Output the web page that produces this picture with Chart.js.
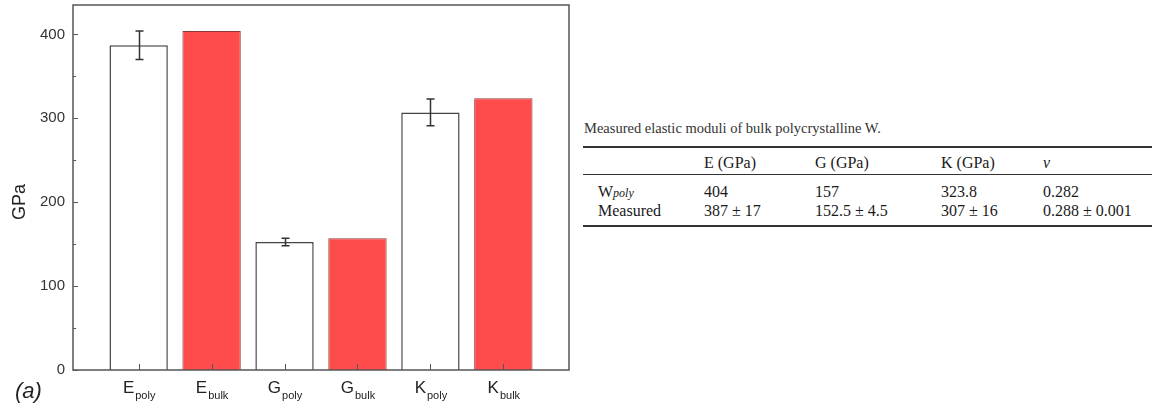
<!DOCTYPE html>
<html>
<head>
<meta charset="utf-8">
<script src="https://cdn.jsdelivr.net/npm/chart.js@4"></script>
<style>
  body { margin: 0; width: 1152px; height: 407px; background: #fff; position: relative; overflow: hidden; }
  #chart { position: absolute; left: 0; top: 0; }
  .tbl { position: absolute; font-family: "Liberation Serif", serif; font-size: 16px; color: #1a1a1a; line-height: 18px; white-space: nowrap; }
  .rule { position: absolute; left: 583px; right: 0; background: #333; }
</style>
</head>
<body>
<canvas id="chart" width="576" height="407"></canvas>
<div id="table"></div>
<script>
// chart data
const labels = ["E", "E", "G", "G", "K", "K"];
const subs = ["poly", "bulk", "poly", "bulk", "poly", "bulk"];
const values = [387, 404, 152.5, 157, 307, 323.8];
const errors = [17, 0, 4.5, 0, 16, 0];
const yTicks = [0, 100, 200, 300, 400];
const yMinor = [50, 150, 250, 350];

// table data
const tableCaption = "Measured elastic moduli of bulk polycrystalline W.";
const tableHead = ["", "E (GPa)", "G (GPa)", "K (GPa)", "ν"];
const tableRows = [
    ["W<i style='font-size:12px'>poly</i>", "404", "157", "323.8", "0.282"],
    ["Measured", "387 ± 17", "152.5 ± 4.5", "307 ± 16", "0.288 ± 0.001"]
];

const red = "#ff4b4b";
const isBulk = subs.map(s => s == "bulk");

// frame, inside ticks, subscripted labels, error bars
const decor = {
    id: "decor",
    afterDatasetsDraw(chart) {
        const ctx = chart.ctx;
        const a = chart.chartArea;
        const xs = chart.scales.x, ys = chart.scales.y;
        ctx.save();
        // error bars
        ctx.strokeStyle = "#333";
        ctx.lineWidth = 1.5;
        values.forEach((v, i) => {
            if (!errors[i]) return;
            const x = Math.round(xs.getPixelForValue(i)) + 0.5;
            const y1 = ys.getPixelForValue(v + errors[i]);
            const y2 = ys.getPixelForValue(v - errors[i]);
            ctx.beginPath();
            ctx.moveTo(x, y1); ctx.lineTo(x, y2);
            ctx.moveTo(x - 4, y1); ctx.lineTo(x + 4, y1);
            ctx.moveTo(x - 4, y2); ctx.lineTo(x + 4, y2);
            ctx.stroke();
        });
        // frame
        ctx.strokeStyle = "#555";
        ctx.lineWidth = 1.5;
        ctx.strokeRect(a.left, a.top, a.right - a.left, a.bottom - a.top);
        // ticks
        ctx.lineWidth = 1;
        ctx.beginPath();
        yTicks.forEach(t => {
            const y = Math.round(ys.getPixelForValue(t)) + 0.5;
            ctx.moveTo(a.left, y); ctx.lineTo(a.left + 5, y);
        });
        yMinor.forEach(t => {
            const y = Math.round(ys.getPixelForValue(t)) + 0.5;
            ctx.moveTo(a.left, y); ctx.lineTo(a.left + 3, y);
        });
        labels.forEach((l, i) => {
            const x = Math.round(xs.getPixelForValue(i)) + 0.5;
            ctx.moveTo(x, a.bottom); ctx.lineTo(x, a.bottom - 6);
        });
        ctx.stroke();
        // x labels with subscripts
        ctx.fillStyle = "#222";
        ctx.textBaseline = "alphabetic";
        ctx.textAlign = "left";
        labels.forEach((l, i) => {
            const x = xs.getPixelForValue(i);
            ctx.font = "17px 'Liberation Sans'";
            const w1 = ctx.measureText(l).width;
            ctx.font = "11px 'Liberation Sans'";
            const w2 = ctx.measureText(subs[i]).width;
            const x0 = x - (w1 + w2) / 2;
            ctx.font = "17px 'Liberation Sans'";
            ctx.fillText(l, x0, 393);
            ctx.font = "11px 'Liberation Sans'";
            ctx.fillText(subs[i], x0 + w1 + 1, 399);
        });
        // y title
        ctx.save();
        ctx.translate(25, 202);
        ctx.rotate(-Math.PI / 2);
        ctx.textAlign = "center";
        ctx.font = "18px 'Liberation Sans'";
        ctx.fillText("GPa", 0, 0);
        ctx.restore();
        // panel letter
        ctx.font = "italic 22px 'Liberation Sans'";
        ctx.fillText("(a)", 15, 398);
        ctx.restore();
    }
};

let chart1 = new Chart(document.getElementById("chart"), {
    type: "bar",
    data: {
        datasets: [{
            data: values.map((v, i) => ({ x: i, y: v })),
            backgroundColor: isBulk.map(b => b ? red : "#ffffff"),
            borderColor: isBulk.map(b => b ? "#8a3a3a" : "#444"),
            borderWidth: isBulk.map(b => b ? 1 : 1.5),
            barPercentage: 0.8,
            categoryPercentage: 1
        }]
    },
    options: {
        responsive: false,
        animation: false,
        devicePixelRatio: 1,
        layout: { padding: { top: 5, right: 7, left: 0, bottom: 0 } },
        plugins: { legend: { display: false }, tooltip: { enabled: false } },
        scales: {
            x: {
                type: "linear",
                offset: false,
                min: -0.9,
                max: 5.9,
                ticks: { display: false, stepSize: 1, includeBounds: false },
                grid: { display: false, drawTicks: false },
                border: { display: false },
                afterFit: s => { s.height = 37; s.paddingLeft = 0; s.paddingRight = 0; }
            },
            y: {
                min: 0,
                max: 435,
                ticks: {
                    stepSize: 100,
                    includeBounds: false,
                    padding: 8,
                    color: "#333",
                    font: { family: "Liberation Sans", size: 15 }
                },
                grid: { display: false, drawTicks: false },
                border: { display: false },
                afterFit: s => { s.width = 73; s.paddingTop = 0; s.paddingBottom = 0; }
            }
        }
    },
    plugins: [decor]
});

// table
const tbl = document.getElementById("table");
const colX = [598, 704, 815, 941, 1043];
const rowY = [163, 192, 211];
function addText(html, x, yc, extra) {
    const d = document.createElement("div");
    d.className = "tbl";
    d.style.left = x + "px";
    d.style.top = (yc - 9) + "px";
    d.innerHTML = html;
    if (extra) Object.assign(d.style, extra);
    tbl.appendChild(d);
}
addText(tableCaption, 584, 128, { color: "#333", fontSize: "14.5px" });
tableHead.forEach((h, j) => addText(h, colX[j], rowY[0], j == 4 ? { fontStyle: "italic" } : null));
tableRows.forEach((r, i) => r.forEach((c, j) => addText(c, colX[j], rowY[i + 1])));
[[146, 2], [174, 1], [225, 2]].forEach(([t, h]) => {
    const d = document.createElement("div");
    d.className = "rule";
    d.style.top = t + "px";
    d.style.height = h + "px";
    tbl.appendChild(d);
});
</script>
</body>
</html>
